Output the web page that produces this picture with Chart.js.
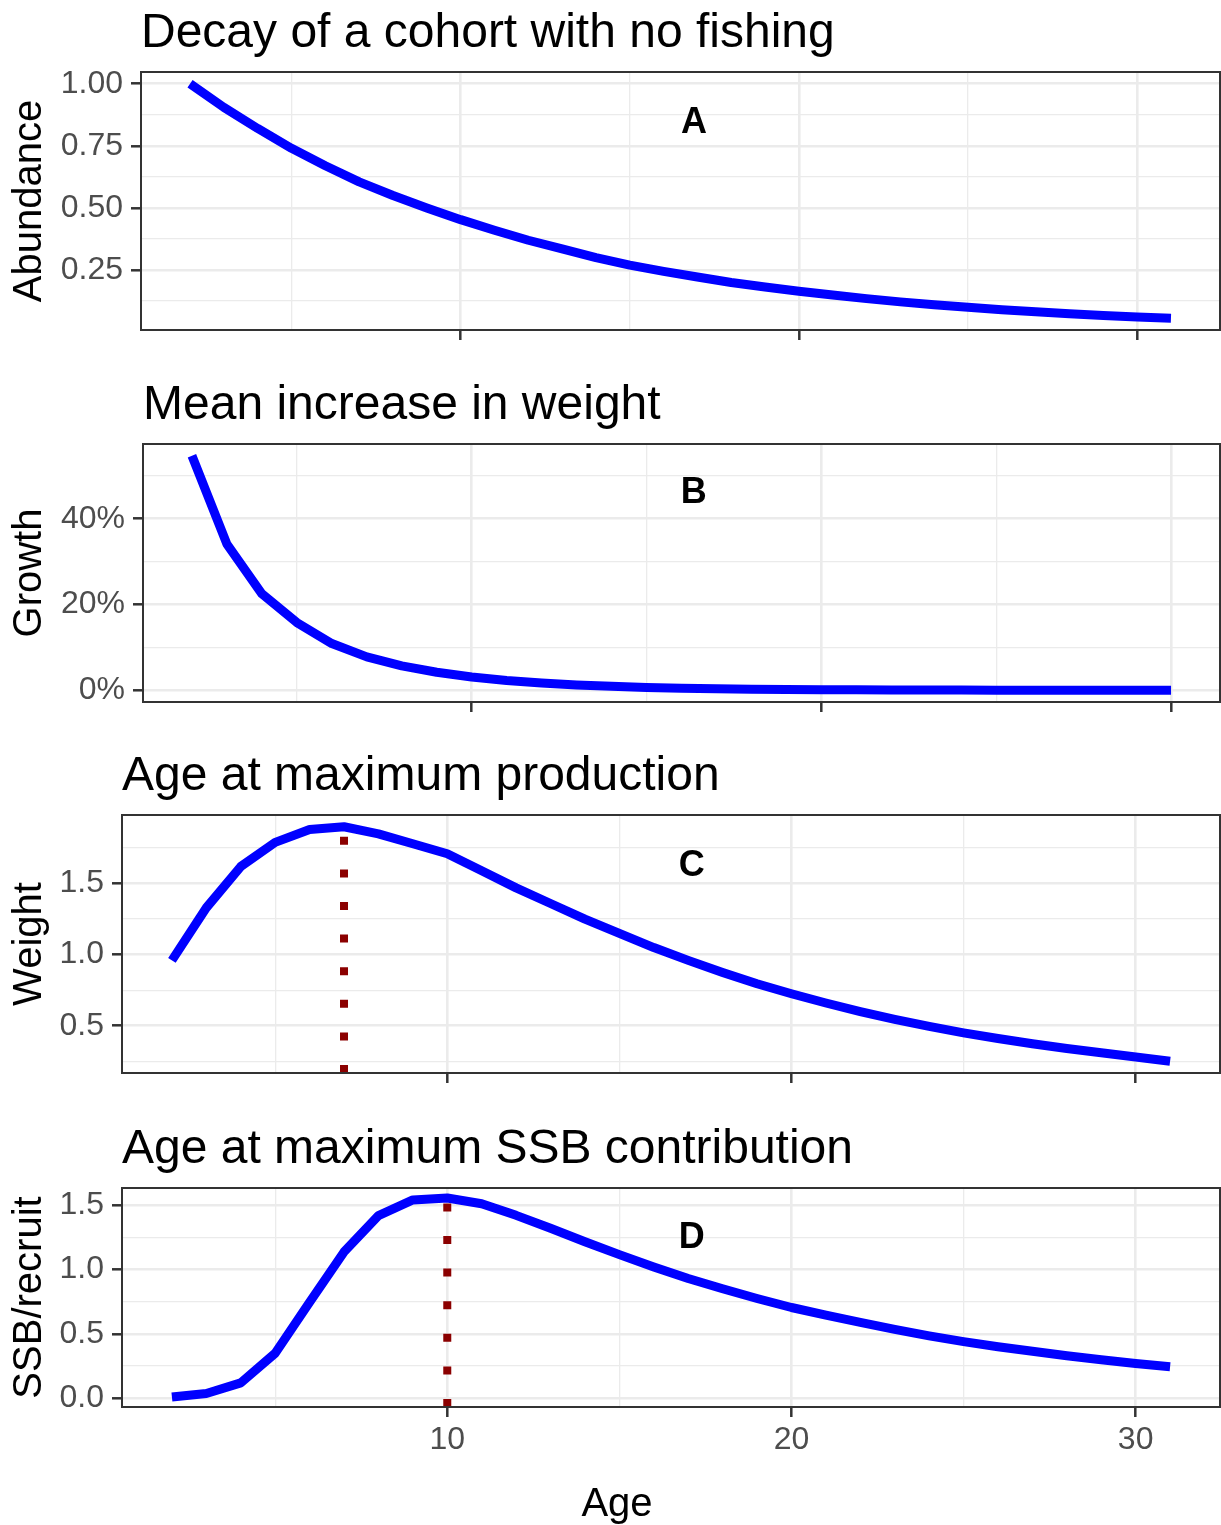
<!DOCTYPE html>
<html>
<head>
<meta charset="utf-8">
<title>Cohort production by age</title>
<script src="https://cdn.jsdelivr.net/npm/chart.js@4.4.0/dist/chart.umd.min.js"></script>
<style>
  html, body { margin: 0; padding: 0; background: #ffffff; }
  body { position: relative; width: 1221px; height: 1525px; overflow: hidden; }
  canvas { position: absolute; left: 0; }
</style>
</head>
<body>
<canvas id="decayChart" width="1221" height="372" style="top:0px"></canvas>
<canvas id="growthChart" width="1221" height="372" style="top:372px"></canvas>
<canvas id="weightChart" width="1221" height="372" style="top:743px"></canvas>
<canvas id="ssbChart" width="1221" height="410" style="top:1115px"></canvas>
<script>
// ------------------------------------------------------------------ data
const ages = [2, 3, 4, 5, 6, 7, 8, 9, 10, 11, 12, 13, 14, 15, 16,
              17, 18, 19, 20, 21, 22, 23, 24, 25, 26, 27, 28, 29, 30, 31];
const growthAges = [2, 3, 4, 5, 6, 7, 8, 9, 10, 11, 12, 13, 14, 15, 16,
                    17, 18, 19, 20, 21, 22, 23, 24, 25, 26, 27, 28, 29, 30];

const abundance = [1.00, 0.905, 0.82, 0.74, 0.67, 0.605, 0.55, 0.50, 0.453, 0.41,
                   0.37, 0.335, 0.30, 0.27, 0.245, 0.222, 0.20, 0.182, 0.165, 0.15,
                   0.135, 0.122, 0.11, 0.10, 0.09, 0.082, 0.074, 0.067, 0.061, 0.056];

// % increase in weight from one age to the next
const growthPct = [54.7, 34.1, 22.5, 15.8, 10.9, 7.8, 5.7, 4.2, 3.1, 2.3,
                   1.7, 1.25, 0.92, 0.68, 0.5, 0.37, 0.27, 0.2, 0.15, 0.11,
                   0.08, 0.06, 0.045, 0.033, 0.024, 0.018, 0.013, 0.01, 0.007];

const weightPerRecruit = [0.96, 1.33, 1.62, 1.79, 1.88, 1.90, 1.85, 1.78, 1.71, 1.59,
                          1.47, 1.36, 1.25, 1.15, 1.05, 0.96, 0.875, 0.795, 0.725, 0.66,
                          0.60, 0.545, 0.495, 0.45, 0.41, 0.373, 0.34, 0.31, 0.28, 0.25];

const ssbPerRecruit = [0.01, 0.038, 0.12, 0.35, 0.745, 1.136, 1.418, 1.54, 1.555, 1.51,
                       1.42, 1.32, 1.215, 1.115, 1.02, 0.93, 0.85, 0.775, 0.705, 0.645,
                       0.59, 0.535, 0.485, 0.44, 0.40, 0.365, 0.33, 0.30, 0.27, 0.245];

const peakAgeWeight = 7;
const peakAgeSsb = 10;

// axis breaks
const ageMajor = [10, 20, 30];
const ageMinor = [5, 15, 25];
const abundanceMajor = [0.25, 0.5, 0.75, 1.0];
const abundanceMinor = [0.125, 0.375, 0.625, 0.875];
const growthMajor = [0, 20, 40];
const growthMinor = [10, 30, 50];
const weightMajor = [0.5, 1.0, 1.5];
const weightMinor = [0.25, 0.75, 1.25, 1.75];
const ssbMajor = [0, 0.5, 1.0, 1.5];
const ssbMinor = [0.25, 0.75, 1.25];

// ------------------------------------------------------------------ helpers
const FONT = '"Liberation Sans", Arial, Helvetica, sans-serif';
const GRID = '#EBEBEB';
const INK = '#333333';

// 5% padding either side, like ggplot's default expansion
function padRange(vals) {
    const lo = Math.min(...vals);
    const hi = Math.max(...vals);
    const pad = (hi - lo) * 0.05;
    return [lo - pad, hi + pad];
}

const isIn = (list, v) => list.some(m => Math.abs(m - v) < 1e-9);

// panel border, heading, corner letter and (bottom panel) the shared x title
const panelFrame = {
    id: 'panelFrame',
    afterDraw(chart, args, opts) {
        const { ctx, chartArea: a, scales } = chart;
        ctx.save();
        ctx.strokeStyle = INK;
        ctx.lineWidth = 2;
        ctx.strokeRect(a.left, a.top, a.right - a.left, a.bottom - a.top);

        ctx.fillStyle = '#000000';
        ctx.font = `48px ${FONT}`;
        ctx.textAlign = 'left';
        ctx.textBaseline = 'alphabetic';
        ctx.fillText(opts.title, a.left, a.top - 25);

        if (opts.xTitle) {
            ctx.font = `40px ${FONT}`;
            ctx.textAlign = 'center';
            ctx.fillText(opts.xTitle, 617, chart.height - 9);
        }

        ctx.font = `bold 36px ${FONT}`;
        ctx.textAlign = 'center';
        ctx.textBaseline = 'middle';
        ctx.fillText(opts.tag,
            scales.x.getPixelForValue(opts.tagAt[0]),
            scales.y.getPixelForValue(opts.tagAt[1]));
        ctx.restore();
    }
};

function makePanel(id, o) {
    const [xMin, xMax] = padRange(o.x);
    const [yMin, yMax] = padRange(o.y);

    const datasets = [{
        data: o.x.map((a, i) => ({ x: a, y: o.y[i] })),
        borderColor: '#0000FF',
        borderWidth: 9,
        borderCapStyle: 'butt',
        borderJoinStyle: 'round',
        pointRadius: 0,
        tension: 0,
        order: 0
    }];

    // dotted marker at the age of the peak
    if (o.peak !== undefined) {
        datasets.push({
            data: [{ x: o.peak, y: yMin }, { x: o.peak, y: yMax }],
            borderColor: '#8B0000',
            borderWidth: 8,
            borderDash: [8, 24.6],
            borderCapStyle: 'butt',
            pointRadius: 0,
            order: 1
        });
    }

    return new Chart(document.getElementById(id), {
        type: 'line',
        data: { datasets },
        options: {
            responsive: false,
            animation: false,
            layout: { padding: { top: o.top, right: 1, bottom: 0, left: 0 } },
            plugins: {
                legend: { display: false },
                tooltip: { enabled: false },
                panelFrame: { title: o.title, tag: o.tag, tagAt: o.tagAt, xTitle: o.xTitle }
            },
            scales: {
                x: {
                    type: 'linear',
                    min: xMin,
                    max: xMax,
                    afterBuildTicks: s => { s.ticks = [...ageMinor, ...ageMajor].sort((a, b) => a - b).map(v => ({ value: v })); },
                    afterFit: s => { s.height = o.xHeight; },
                    border: { display: false },
                    grid: {
                        color: GRID,
                        lineWidth: c => (c.tick && isIn(ageMajor, c.tick.value)) ? 2.6 : 1.3,
                        drawTicks: true,
                        tickLength: 10,
                        tickWidth: 2.5,
                        tickColor: c => (c.tick && isIn(ageMajor, c.tick.value)) ? INK : 'rgba(0,0,0,0)'
                    },
                    ticks: {
                        display: !!o.xTitle,
                        autoSkip: false,
                        maxRotation: 0,
                        padding: 4,
                        color: '#4D4D4D',
                        font: { family: FONT, size: 32 },
                        callback: v => isIn(ageMajor, v) ? String(v) : ''
                    }
                },
                y: {
                    type: 'linear',
                    min: yMin,
                    max: yMax,
                    afterBuildTicks: s => { s.ticks = [...o.yMinor, ...o.yMajor].sort((a, b) => a - b).map(v => ({ value: v })); },
                    afterFit: s => { s.width = o.yWidth; },
                    border: { display: false },
                    grid: {
                        color: GRID,
                        lineWidth: c => (c.tick && isIn(o.yMajor, c.tick.value)) ? 2.6 : 1.3,
                        drawTicks: true,
                        tickLength: 10,
                        tickWidth: 2.5,
                        tickColor: c => (c.tick && isIn(o.yMajor, c.tick.value)) ? INK : 'rgba(0,0,0,0)'
                    },
                    ticks: {
                        autoSkip: false,
                        padding: 8,
                        color: '#4D4D4D',
                        font: { family: FONT, size: 32 },
                        callback: v => isIn(o.yMajor, v) ? o.yFmt(v) : ''
                    },
                    title: {
                        display: true,
                        text: o.yTitle,
                        color: '#000000',
                        font: { family: FONT, size: 40 },
                        padding: { top: 6, bottom: 0 }
                    }
                }
            }
        },
        plugins: [panelFrame]
    });
}

// ------------------------------------------------------------------ panels
makePanel('decayChart', {
    title: 'Decay of a cohort with no fishing', tag: 'A', tagAt: [16.9, 0.843],
    x: ages, y: abundance, yTitle: 'Abundance',
    yMajor: abundanceMajor, yMinor: abundanceMinor, yFmt: v => v.toFixed(2),
    top: 72, xHeight: 42, yWidth: 141
});

makePanel('growthChart', {
    title: 'Mean increase in weight', tag: 'B', tagAt: [16.35, 46.1],
    x: growthAges, y: growthPct, yTitle: 'Growth',
    yMajor: growthMajor, yMinor: growthMinor, yFmt: v => v + '%',
    top: 72, xHeight: 42, yWidth: 143
});

makePanel('weightChart', {
    title: 'Age at maximum production', tag: 'C', tagAt: [17.1, 1.625],
    x: ages, y: weightPerRecruit, yTitle: 'Weight', peak: peakAgeWeight,
    yMajor: weightMajor, yMinor: weightMinor, yFmt: v => v.toFixed(1),
    top: 72, xHeight: 42, yWidth: 122
});

makePanel('ssbChart', {
    title: 'Age at maximum SSB contribution', tag: 'D', tagAt: [17.1, 1.24],
    x: ages, y: ssbPerRecruit, yTitle: 'SSB/recruit', peak: peakAgeSsb,
    yMajor: ssbMajor, yMinor: ssbMinor, yFmt: v => v.toFixed(1),
    top: 73, xHeight: 118, yWidth: 122, xTitle: 'Age'
});
</script>
</body>
</html>
